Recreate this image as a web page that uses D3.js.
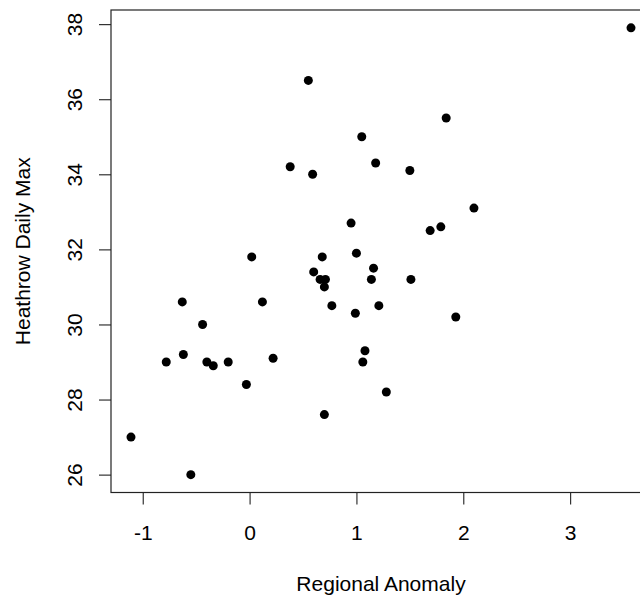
<!DOCTYPE html>
<html>
<head>
<meta charset="utf-8">
<script src="https://cdn.jsdelivr.net/npm/d3@7"></script>
<style>
  html, body { margin: 0; padding: 0; background: #fff; }
  svg { display: block; }
  text { font-family: "Liberation Sans", Arial, sans-serif; fill: #000; }
</style>
</head>
<body>
<svg id="chart" width="640" height="597"></svg>
<script>
// Regional Anomaly (x) and Heathrow Daily Max (y)
const anomaly = [
  -1.11, -0.55, -0.78, -0.63, -0.62, -0.44, -0.40, -0.34, -0.20, -0.03,
   0.22,  0.12,  0.02,  0.38,  0.55,  0.59,  0.68,  0.60,  0.66,  0.71,
   0.70,  0.77,  0.95,  1.00,  0.99,  1.05,  1.18,  1.16,  1.14,  1.21,
   1.08,  1.06,  1.28,  0.70,  1.50,  1.51,  1.69,  1.79,  1.84,  1.93,
   2.10,  3.57
];
const heathrowMax = [
  27.0, 26.0, 29.0, 30.6, 29.2, 30.0, 29.0, 28.9, 29.0, 28.4,
  29.1, 30.6, 31.8, 34.2, 36.5, 34.0, 31.8, 31.4, 31.2, 31.2,
  31.0, 30.5, 32.7, 31.9, 30.3, 35.0, 34.3, 31.5, 31.2, 30.5,
  29.3, 29.0, 28.2, 27.6, 34.1, 31.2, 32.5, 32.6, 35.5, 30.2,
  33.1, 37.9
];
const xTicks = [-1, 0, 1, 2, 3];
const yTicks = [26, 28, 30, 32, 34, 36, 38];
const xTitle = "Regional Anomaly";
const yTitle = "Heathrow Daily Max";

const svg = d3.select("#chart");
const plot = { left: 111, right: 651, top: 10, bottom: 492.5 };

function rExtend(vals) {
  const [lo, hi] = d3.extent(vals);
  const pad = (hi - lo) * 0.04;
  return [lo - pad, hi + pad];
}

const x = d3.scaleLinear().domain(rExtend(anomaly)).range([plot.left, plot.right]);
const y = d3.scaleLinear().domain(rExtend(heathrowMax)).range([plot.bottom, plot.top]);

// X axis
const gx = svg.append("g")
  .attr("transform", `translate(0,${plot.bottom})`)
  .call(d3.axisBottom(x).tickValues(xTicks).tickSize(12).tickPadding(0)
        .tickFormat(d => d < 0 ? "-" + Math.abs(d) : String(d)));
gx.select(".domain").remove();
gx.selectAll(".tick line").attr("stroke", "#333").attr("stroke-width", 1.2);
gx.selectAll(".tick text")
  .attr("y", 47).attr("dy", null)
  .style("font-size", "21px")
  .attr("dominant-baseline", "auto");

// Y axis
const gy = svg.append("g")
  .attr("transform", `translate(${plot.left},0)`)
  .call(d3.axisLeft(y).tickValues(yTicks).tickSize(12).tickFormat(d3.format("d")));
gy.select(".domain").remove();
gy.selectAll(".tick line").attr("stroke", "#333").attr("stroke-width", 1.2);
gy.selectAll(".tick text")
  .attr("x", null).attr("dy", null)
  .attr("text-anchor", "middle")
  .attr("transform", "translate(-29.5,0) rotate(-90)")
  .style("font-size", "21px");

// Box
svg.append("rect")
  .attr("x", plot.left).attr("y", plot.top)
  .attr("width", plot.right - plot.left).attr("height", plot.bottom - plot.top)
  .attr("fill", "none").attr("stroke", "#222").attr("stroke-width", 1.2);

// Points
svg.append("g").selectAll("circle")
  .data(anomaly.map((a, i) => [a, heathrowMax[i]]))
  .join("circle")
  .attr("cx", d => x(d[0]))
  .attr("cy", d => y(d[1]))
  .attr("r", 4.5)
  .attr("fill", "#000");

// Titles
svg.append("text")
  .attr("x", (plot.left + plot.right) / 2)
  .attr("y", 591)
  .attr("text-anchor", "middle")
  .style("font-size", "21px")
  .text(xTitle);

svg.append("text")
  .attr("transform", `translate(29.5,${(plot.top + plot.bottom) / 2}) rotate(-90)`)
  .attr("text-anchor", "middle")
  .style("font-size", "21px")
  .text(yTitle);
</script>
</body>
</html>
